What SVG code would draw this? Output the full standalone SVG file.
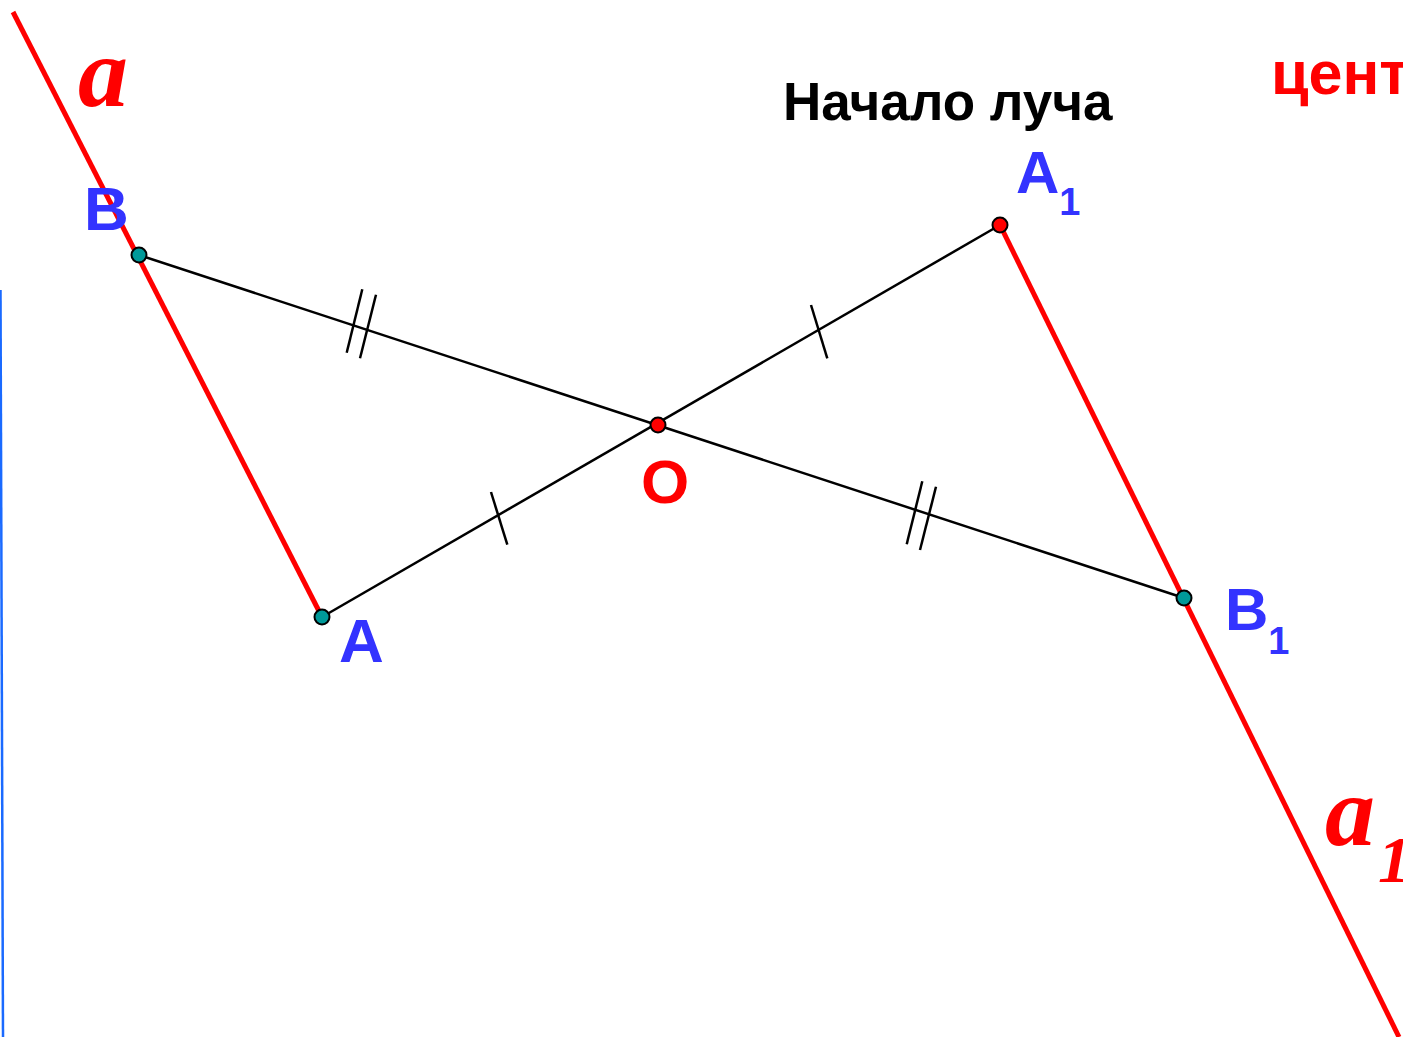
<svg xmlns="http://www.w3.org/2000/svg" width="1403" height="1037" viewBox="0 0 1403 1037">
<style>
.red{stroke:#FF0000;stroke-width:5;fill:none;stroke-linecap:butt}
.blk{stroke:#000;stroke-width:2.5;fill:none}
.tick{stroke:#000;stroke-width:2.5;fill:none}
.pt{stroke:#000;stroke-width:2}
.teal{fill:#009999}
.rp{fill:#FF0000}
.lbl{font-family:"Liberation Sans",Arial,sans-serif;font-weight:bold;fill:#3333FF}
.it{font-family:"Liberation Serif","Times New Roman",serif;font-weight:bold;font-style:italic;fill:#FF0000}
</style>
<rect width="1403" height="1037" fill="#fff"/>
<g id="connectors">
<line x1="0.5" y1="290" x2="3" y2="1037" stroke="#1a6aff" stroke-width="2.5"/>
<line class="red" x1="13" y1="12" x2="322" y2="617"/>
<line class="red" x1="1000" y1="225" x2="1399" y2="1037"/>
<line class="blk" x1="139" y1="255" x2="1184" y2="598"/>
<line class="blk" x1="322" y1="617" x2="1000" y2="225"/>
<line class="tick" x1="362.3" y1="289.3" x2="346.7" y2="352.7"/>
<line class="tick" x1="376" y1="294.7" x2="360" y2="358.3"/>
<line class="tick" x1="922.3" y1="481.3" x2="906.7" y2="544.3"/>
<line class="tick" x1="936" y1="486.7" x2="920" y2="550"/>
<line class="tick" x1="491" y1="492" x2="507.3" y2="544.7"/>
<line class="tick" x1="811" y1="305" x2="827.3" y2="358.3"/>
</g>
<g id="node-B"><circle class="pt teal" cx="139" cy="255" r="7.5"/><text class="lbl" x="84" y="230" font-size="62">B</text></g>
<g id="node-A"><circle class="pt teal" cx="322" cy="617" r="7.5"/><text class="lbl" x="339" y="662" font-size="62">A</text></g>
<g id="node-O"><circle class="pt rp" cx="658" cy="425" r="7.5"/><text x="641" y="503" font-size="62" font-family="Liberation Sans,Arial,sans-serif" font-weight="bold" fill="#FF0000">O</text></g>
<g id="node-A1"><circle class="pt rp" cx="1000" cy="225" r="7.5"/><text class="lbl" x="1016" y="193" font-size="60">A<tspan font-size="38" dy="22">1</tspan></text></g>
<g id="node-B1"><circle class="pt teal" cx="1184" cy="598" r="7.5"/><text class="lbl" x="1225" y="630" font-size="60">B<tspan font-size="38" dy="24">1</tspan></text></g>
<g id="label-a"><text class="it" x="78" y="106" font-size="100">a</text></g>
<g id="label-a1"><text class="it" x="1325" y="845" font-size="100">a</text><text class="it" x="1378" y="882" font-size="66">1</text></g>
<g id="title"><text x="783" y="120" font-size="53" font-family="Liberation Sans,Arial,sans-serif" font-weight="bold" fill="#000">Начало луча</text></g>
<g id="center"><text x="1271" y="94" font-size="61" font-family="Liberation Sans,Arial,sans-serif" font-weight="bold" fill="#FF0000">центр</text></g>
</svg>
